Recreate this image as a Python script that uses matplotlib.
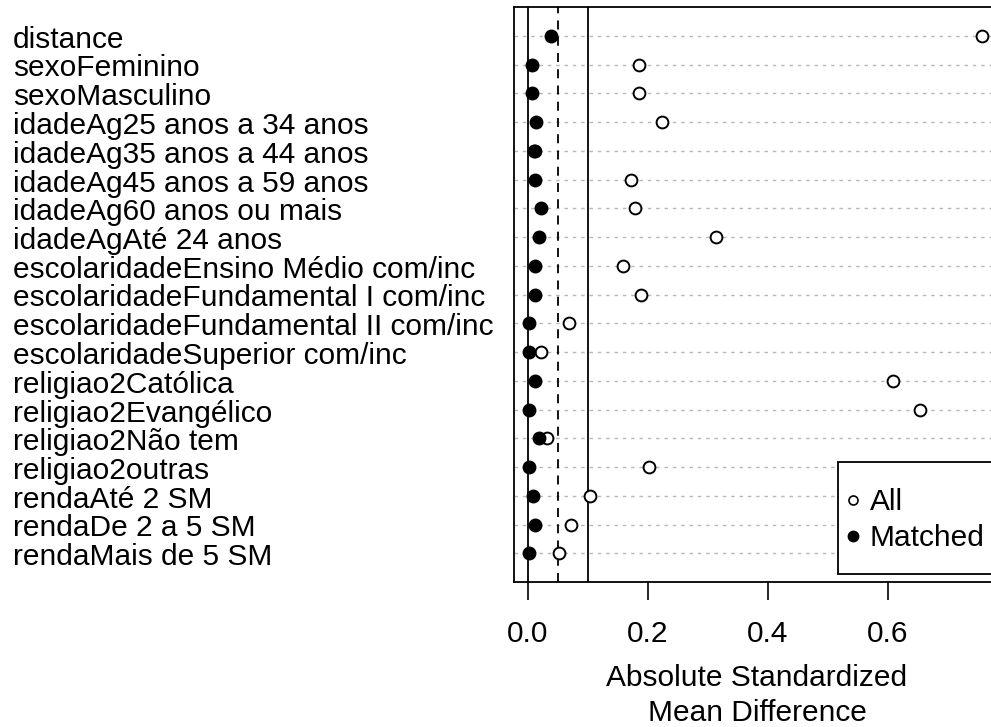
import matplotlib
matplotlib.use("Agg")
import matplotlib.pyplot as plt
from matplotlib.lines import Line2D
from matplotlib.patches import Rectangle
from matplotlib.transforms import ScaledTranslation

plt.rcParams['font.family'] = ['Liberation Sans', 'DejaVu Sans']

covariates = [
    "distance", "sexoFeminino", "sexoMasculino",
    "idadeAg25 anos a 34 anos", "idadeAg35 anos a 44 anos",
    "idadeAg45 anos a 59 anos", "idadeAg60 anos ou mais",
    "idadeAgAté 24 anos", "escolaridadeEnsino Médio com/inc",
    "escolaridadeFundamental I com/inc", "escolaridadeFundamental II com/inc",
    "escolaridadeSuperior com/inc", "religiao2Católica",
    "religiao2Evangélico", "religiao2Não tem", "religiao2outras",
    "rendaAté 2 SM", "rendaDe 2 a 5 SM", "rendaMais de 5 SM",
]
smd_all = [0.756, 0.185, 0.185, 0.224, 0.012, 0.172, 0.178, 0.314, 0.159,
           0.188, 0.069, 0.021, 0.608, 0.653, 0.031, 0.202, 0.104, 0.072, 0.052]
smd_matched = [0.039, 0.007, 0.007, 0.014, 0.010, 0.011, 0.021, 0.018, 0.011,
               0.011, 0.001, 0.001, 0.011, 0.001, 0.018, 0.001, 0.008, 0.011, 0.001]
x_ticks = [0.0, 0.2, 0.4, 0.6]
thresholds = [0.05, 0.1]

FS = 21.5
W, H = 991, 727
fig = plt.figure(figsize=(W / 100, H / 100), dpi=100)
left, right, top, bottom = 514, 1000, 7, 582
ax = fig.add_axes([left / W, 1 - bottom / H, (right - left) / W, (bottom - top) / H])

ypos = list(range(len(covariates)))
for y in ypos:
    ax.axhline(y, color='#b8b8b8', lw=1.0, ls=(0, (2.5, 3.5)), zorder=1)

ax.axvline(0, color='black', lw=1.3, zorder=2)
ax.axvline(thresholds[0], color='black', lw=1.3, ls=(0, (5, 4)), zorder=2)
ax.axvline(thresholds[1], color='black', lw=1.3, zorder=2)

ax.plot(smd_all, ypos, 'o', ls='none', mfc='white', mec='black', mew=1.4, ms=8.5, zorder=3)
ax.plot(smd_matched, ypos, 'o', ls='none', mfc='black', mec='black', ms=9, zorder=4)

ax.set_xlim(-14 / 600, (right - 528) / 600)
ax.set_ylim(len(covariates), -1)

ax.tick_params(axis='x', length=13, width=1.2, pad=14)
ax.tick_params(axis='y', length=0, pad=(left - 13) * 0.72)

ax.set_xticks(x_ticks)
ax.set_xticklabels([f"{t:.1f}" for t in x_ticks], fontsize=FS)
ax.set_xlabel("Absolute Standardized\nMean Difference", fontsize=FS, labelpad=12,
              linespacing=1.32)

ax.set_yticks(ypos)
ax.set_yticklabels(covariates, fontsize=FS, ha='left', va='center')
shift = ScaledTranslation(0, -4 / 100, fig.dpi_scale_trans)
for lab in ax.get_yticklabels():
    lab.set_transform(lab.get_transform() + shift)

for s in ax.spines.values():
    s.set_linewidth(1.3)

# legend box
fig.patches.append(Rectangle((838 / W, 1 - 574 / H), (1000 - 838) / W, (574 - 462) / H,
                             transform=fig.transFigure, fill=True, facecolor='white',
                             edgecolor='black', lw=1.3, zorder=5))

handles = [
    Line2D([], [], marker='o', ls='none', mfc='white', mec='black', mew=1.2, ms=6.5),
    Line2D([], [], marker='o', ls='none', mfc='black', mec='black', ms=7.5),
]
leg = fig.legend(handles, ["All", "Matched"], loc='upper left',
                 bbox_to_anchor=(846 / W, 1 - 488 / H), bbox_transform=fig.transFigure,
                 fontsize=FS, frameon=False, borderpad=0,
                 handlelength=0.5, handletextpad=0.3, labelspacing=0.28,
                 borderaxespad=0)
leg.set_zorder(6)

fig.savefig("out.png", dpi=100)
